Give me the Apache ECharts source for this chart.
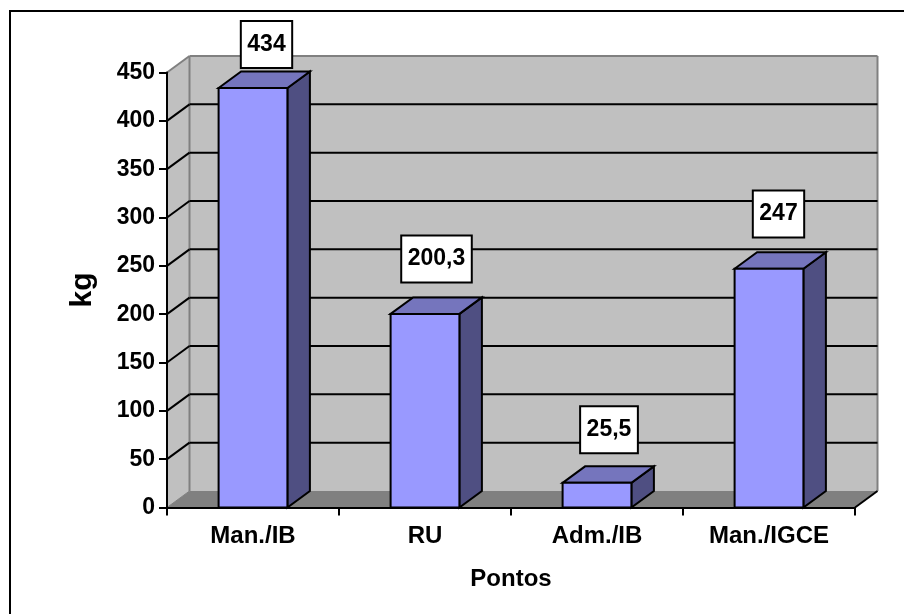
<!DOCTYPE html>
<html>
<head>
<meta charset="utf-8">
<script src="https://cdn.jsdelivr.net/npm/echarts@6/dist/echarts.min.js"></script>
<style>
html, body { margin: 0; padding: 0; background: #fff; }
#myChart { width: 904px; height: 614px; }
</style>
</head>
<body>
<div id="myChart"></div>
<script>
var categories = ['Man./IB', 'RU', 'Adm./IB', 'Man./IGCE'];
var pesoKg = [434, 200.3, 25.5, 247];
var gridValues = [50, 100, 150, 200, 250, 300, 350, 400];

// deslocamento das caixas de rotulo em relacao ao topo da barra
var labelOffsets = [[13.5, -43.5], [11.5, -55], [12, -53], [9.5, -54.7]];

var depthX = 22.5, depthY = 16.5; // profundidade do falso 3D
var fontName = '"Liberation Sans", Arial, sans-serif';

function poly(points, fill, stroke, width) {
    return {
        type: 'polygon',
        shape: { points: points },
        style: { fill: fill, stroke: stroke || null, lineWidth: width || 0, lineJoin: 'miter' }
    };
}

function line(x1, y1, x2, y2, color, width) {
    return {
        type: 'line',
        shape: { x1: x1, y1: y1, x2: x2, y2: y2 },
        style: { stroke: color, lineWidth: width }
    };
}

/* paredes e chao */
function renderWalls(params, api) {
    var c = params.coordSys;
    var l = c.x, r = c.x + c.width, b = c.y + c.height, t = c.y;
    return {
        type: 'group',
        children: [
            poly([[l + depthX, t - depthY], [r + depthX, t - depthY], [r + depthX, b - depthY], [l + depthX, b - depthY]], '#c0c0c0'),
            poly([[l, t], [l + depthX, t - depthY], [l + depthX, b - depthY], [l, b]], '#c0c0c0'),
            poly([[l, b], [l + depthX, b - depthY], [r + depthX, b - depthY], [r, b]], '#808080'),
            line(l, t, l + depthX, t - depthY, '#808080', 2),
            line(l + depthX, t - depthY, r + depthX, t - depthY, '#808080', 2),
            line(r + depthX, t - depthY, r + depthX, b - depthY, '#808080', 2),
            line(l + depthX, t - depthY, l + depthX, b - depthY, '#808080', 2),
            line(l, b, l + depthX, b - depthY, '#808080', 1),
            line(r, b, r + depthX, b - depthY, '#000', 2)
        ]
    };
}

/* linhas de grade na parede esquerda e no fundo */
function renderGrid(params, api) {
    var c = params.coordSys;
    var y = api.coord([0, api.value(1)])[1];
    var l = c.x, r = c.x + c.width;
    return {
        type: 'group',
        children: [
            line(l, y, l + depthX, y - depthY, '#000', 2),
            line(l + depthX, y - depthY, r + depthX, y - depthY, '#000', 2)
        ]
    };
}

function renderBar(params, api) {
    var v = api.value(1);
    var top = api.coord([api.value(0), v]);
    var base = api.coord([api.value(0), 0]);
    var w = api.size([1, 0])[0] * 0.4;
    var x1 = top[0] - w / 2, x2 = top[0] + w / 2;
    var y1 = top[1], y2 = base[1];
    var off = labelOffsets[params.dataIndex];
    return {
        type: 'group',
        children: [
            poly([[x2, y1], [x2 + depthX, y1 - depthY], [x2 + depthX, y2 - depthY], [x2, y2]], '#4f4f82', '#000', 2),
            poly([[x1, y1], [x1 + depthX, y1 - depthY], [x2 + depthX, y1 - depthY], [x2, y1]], '#7575bd', '#000', 2),
            poly([[x1, y1], [x2, y1], [x2, y2], [x1, y2]], '#9999ff', '#000', 2),
            {
                type: 'text',
                z2: 10,
                style: {
                    text: String(v).replace('.', ','),
                    x: top[0] + off[0],
                    y: top[1] + off[1],
                    align: 'center',
                    verticalAlign: 'middle',
                    font: 'bold 23px ' + fontName,
                    fill: '#000',
                    backgroundColor: '#fff',
                    borderColor: '#000',
                    borderWidth: 2,
                    padding: [11, 5.5]
                }
            }
        ]
    };
}

var myChart = echarts.init(document.getElementById('myChart'), null, { renderer: 'canvas' });
myChart.setOption({
    animation: false,
    backgroundColor: '#fff',
    grid: { left: 167, right: 49, top: 72.5, bottom: 106.5 },
    graphic: [
        { type: 'line', shape: { x1: 10, y1: 11, x2: 904, y2: 11 }, style: { stroke: '#000', lineWidth: 2 } },
        { type: 'line', shape: { x1: 10, y1: 10, x2: 10, y2: 614 }, style: { stroke: '#000', lineWidth: 2 } }
    ],
    xAxis: {
        type: 'category',
        data: categories,
        z: 10,
        name: 'Pontos',
        nameLocation: 'middle',
        nameGap: 60,
        nameTextStyle: { color: '#000', fontWeight: 'bold', fontSize: 24, fontFamily: fontName },
        axisLine: { lineStyle: { color: '#000', width: 2 } },
        axisTick: { show: true, alignWithLabel: false, length: 8, lineStyle: { color: '#000', width: 2 } },
        axisLabel: { color: '#000', fontWeight: 'bold', fontSize: 24, fontFamily: fontName, margin: 17 }
    },
    yAxis: {
        type: 'value',
        min: 0,
        max: 450,
        interval: 50,
        z: 10,
        name: 'kg',
        nameLocation: 'middle',
        nameRotate: 90,
        nameGap: 69,
        nameTextStyle: { color: '#000', fontWeight: 'bold', fontSize: 30, fontFamily: fontName },
        splitLine: { show: false },
        axisLine: { show: true, lineStyle: { color: '#000', width: 2 } },
        axisTick: { show: true, length: 8, lineStyle: { color: '#000', width: 2 } },
        axisLabel: { color: '#000', fontWeight: 'bold', fontSize: 23, fontFamily: fontName, margin: 12, padding: [4, 0, 0, 0] }
    },
    series: [
        { type: 'custom', z: 1, renderItem: renderWalls, data: [[0, 0]] },
        { type: 'custom', z: 2, renderItem: renderGrid, data: gridValues.map(function (t) { return [0, t]; }) },
        { type: 'custom', z: 3, renderItem: renderBar, data: pesoKg.map(function (v, i) { return [i, v]; }) }
    ]
});
</script>
</body>
</html>
